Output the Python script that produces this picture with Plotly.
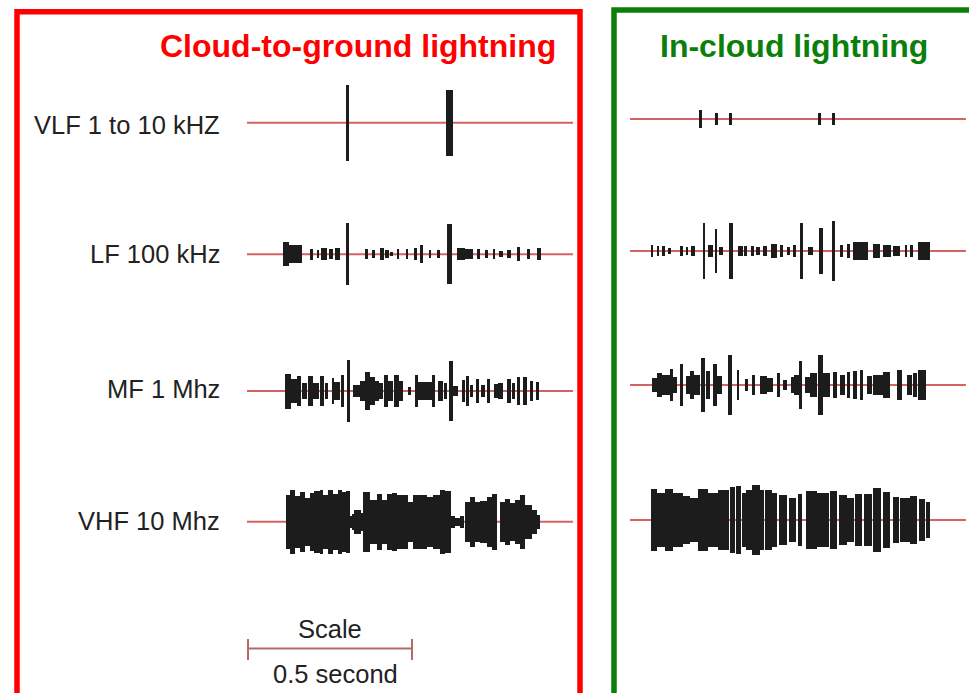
import plotly.graph_objects as go

W, H = 969, 693
PX_PER_S = 328.0          # horizontal time scale, pixels per second
LEFT_T0_PX = 248.0        # pixel where t = 0 for the cloud-to-ground traces
RIGHT_T0_PX = 633.0       # pixel where t = 0 for the in-cloud traces

BANDS = ["VLF 1 to 10 kHZ", "LF 100 kHz", "MF 1 Mhz", "VHF 10 Mhz"]

# Each record: (pulse start s, pulse end s, half amplitude in relative units)
CG_VLF = [(0.300, 0.309, 38), (0.605, 0.624, 33)]

CG_LF = [
    (0.106, 0.125, 12), (0.125, 0.164, 9), (0.189, 0.198, 5.5), (0.209, 0.217, 4),
    (0.223, 0.241, 6), (0.247, 0.259, 5), (0.264, 0.280, 6), (0.299, 0.308, 31),
    (0.357, 0.366, 5), (0.378, 0.387, 4), (0.402, 0.415, 6), (0.418, 0.430, 4),
    (0.435, 0.441, 2), (0.453, 0.461, 5), (0.481, 0.489, 5), (0.506, 0.516, 6),
    (0.524, 0.534, 9), (0.551, 0.559, 4), (0.575, 0.585, 4), (0.608, 0.622, 30),
    (0.636, 0.662, 6), (0.662, 0.687, 5), (0.698, 0.707, 5), (0.723, 0.731, 4),
    (0.746, 0.754, 5), (0.765, 0.777, 3), (0.789, 0.801, 4), (0.819, 0.829, 7),
    (0.850, 0.860, 5), (0.880, 0.892, 6),
]

CG_MF = [
    (0.113, 0.130, 17.5), (0.130, 0.148, 12), (0.150, 0.161, 15), (0.164, 0.179, 8),
    (0.184, 0.197, 15), (0.199, 0.217, 8), (0.220, 0.232, 15), (0.235, 0.245, 8),
    (0.255, 0.262, 13), (0.262, 0.280, 9), (0.284, 0.293, 16), (0.301, 0.311, 31),
    (0.321, 0.341, 6), (0.341, 0.357, 10), (0.357, 0.372, 19), (0.372, 0.387, 14),
    (0.387, 0.400, 10), (0.400, 0.412, 8), (0.415, 0.428, 16), (0.428, 0.443, 10),
    (0.445, 0.459, 16), (0.461, 0.473, 10), (0.489, 0.496, 4), (0.509, 0.519, 16),
    (0.519, 0.560, 9), (0.560, 0.570, 16), (0.580, 0.594, 10), (0.598, 0.608, 8),
    (0.614, 0.624, 30), (0.626, 0.641, 5), (0.652, 0.662, 11), (0.665, 0.675, 15),
    (0.677, 0.687, 6), (0.695, 0.705, 12), (0.709, 0.723, 6), (0.728, 0.738, 12),
    (0.750, 0.763, 7), (0.763, 0.778, 8), (0.789, 0.801, 12), (0.804, 0.814, 8),
    (0.819, 0.829, 14), (0.839, 0.850, 14), (0.860, 0.870, 10), (0.878, 0.886, 9),
]

CG_VHF = [
    (0.116, 0.128, 27), (0.128, 0.143, 32), (0.143, 0.159, 26), (0.159, 0.174, 30),
    (0.174, 0.189, 24), (0.189, 0.201, 29), (0.201, 0.220, 31), (0.220, 0.230, 32),
    (0.230, 0.245, 27), (0.245, 0.260, 32), (0.260, 0.275, 28), (0.275, 0.286, 32),
    (0.286, 0.299, 30), (0.299, 0.311, 31),
    (0.311, 0.316, 6), (0.316, 0.323, 8), (0.323, 0.345, 12), (0.345, 0.352, 9),
    (0.352, 0.372, 30), (0.372, 0.392, 22), (0.392, 0.408, 28), (0.408, 0.423, 22),
    (0.423, 0.438, 28), (0.438, 0.453, 29), (0.453, 0.473, 27), (0.473, 0.489, 27),
    (0.489, 0.504, 20), (0.504, 0.524, 27), (0.524, 0.545, 27), (0.545, 0.565, 25),
    (0.565, 0.585, 27), (0.585, 0.601, 32), (0.601, 0.618, 31),
    (0.618, 0.630, 6), (0.630, 0.645, 4), (0.645, 0.658, 6),
    (0.662, 0.677, 20), (0.677, 0.692, 25), (0.692, 0.707, 20), (0.707, 0.728, 21),
    (0.728, 0.743, 25), (0.743, 0.758, 28),
    (0.768, 0.784, 20), (0.784, 0.799, 23), (0.799, 0.814, 19), (0.814, 0.829, 22),
    (0.829, 0.845, 27), (0.845, 0.865, 17), (0.865, 0.880, 12), (0.880, 0.890, 7),
]

IC_VLF = [
    (0.200, 0.210, 9), (0.250, 0.258, 6), (0.294, 0.303, 6),
    (0.565, 0.573, 6), (0.608, 0.617, 6),
]

IC_LF = [
    (0.054, 0.062, 6), (0.072, 0.080, 5), (0.088, 0.098, 5), (0.108, 0.115, 3),
    (0.143, 0.152, 5), (0.162, 0.169, 4), (0.176, 0.188, 5), (0.213, 0.220, 28),
    (0.230, 0.245, 6), (0.251, 0.257, 22), (0.263, 0.273, 4), (0.294, 0.306, 28),
    (0.321, 0.334, 5), (0.338, 0.347, 5), (0.359, 0.369, 5), (0.375, 0.387, 4),
    (0.395, 0.408, 5), (0.420, 0.438, 7), (0.448, 0.458, 6), (0.469, 0.479, 4),
    (0.489, 0.497, 6), (0.509, 0.517, 28), (0.534, 0.550, 4), (0.566, 0.578, 23),
    (0.607, 0.616, 30), (0.631, 0.641, 6), (0.652, 0.662, 7), (0.672, 0.717, 9),
    (0.733, 0.753, 7), (0.763, 0.786, 6), (0.794, 0.814, 5), (0.829, 0.836, 6),
    (0.845, 0.855, 6), (0.868, 0.905, 9),
]

IC_MF = [
    (0.057, 0.072, 7), (0.072, 0.088, 12), (0.088, 0.113, 10), (0.113, 0.123, 16),
    (0.123, 0.135, 8), (0.143, 0.152, 21), (0.162, 0.174, 9), (0.174, 0.186, 14),
    (0.186, 0.204, 10), (0.206, 0.220, 27), (0.223, 0.235, 14), (0.245, 0.257, 21),
    (0.257, 0.270, 9), (0.291, 0.301, 30), (0.316, 0.324, 15), (0.341, 0.352, 6),
    (0.362, 0.372, 10), (0.387, 0.408, 9), (0.408, 0.428, 7), (0.438, 0.448, 12),
    (0.458, 0.469, 5), (0.481, 0.491, 8), (0.491, 0.506, 10), (0.506, 0.514, 24),
    (0.524, 0.540, 8), (0.540, 0.560, 12), (0.565, 0.578, 30), (0.580, 0.601, 12),
    (0.611, 0.623, 13), (0.631, 0.646, 10), (0.652, 0.662, 13), (0.672, 0.682, 14),
    (0.692, 0.702, 15), (0.713, 0.728, 9), (0.733, 0.763, 10), (0.763, 0.784, 13),
    (0.804, 0.819, 15), (0.834, 0.850, 10), (0.855, 0.865, 12), (0.870, 0.893, 15),
]

IC_VHF = [
    (0.054, 0.072, 31), (0.072, 0.098, 27), (0.098, 0.123, 31), (0.123, 0.153, 27),
    (0.153, 0.174, 24), (0.174, 0.199, 22), (0.199, 0.230, 31), (0.230, 0.260, 27),
    (0.260, 0.292, 30), (0.295, 0.312, 33), (0.315, 0.329, 34), (0.332, 0.346, 27),
    (0.346, 0.362, 30), (0.362, 0.387, 35), (0.387, 0.399, 30), (0.403, 0.423, 30),
    (0.423, 0.440, 27), (0.446, 0.470, 25), (0.475, 0.496, 22), (0.502, 0.516, 26),
    (0.526, 0.560, 29), (0.560, 0.597, 27), (0.600, 0.622, 29), (0.629, 0.652, 25),
    (0.652, 0.673, 22), (0.676, 0.699, 26), (0.705, 0.729, 26), (0.732, 0.755, 32),
    (0.761, 0.785, 28), (0.792, 0.810, 23), (0.813, 0.845, 22), (0.845, 0.867, 24),
    (0.873, 0.891, 21), (0.894, 0.905, 18),
]

SCALE_SECONDS = 0.5

# Layout: baseline heights (px from top) of each band row in both panels
LEFT_ROWS_PX = [122.7, 254.3, 391.0, 521.7]
RIGHT_ROWS_PX = [119.0, 251.0, 385.0, 520.0]
LABEL_Y_PX = [125, 254, 389, 521]
LEFT_LINE_T = (-0.003, 0.991)
RIGHT_LINE_T = (-0.009, 1.015)

INK = "#1c1c1c"
BASELINE = "#d46464"
TEXT = "#222222"
FONT = "Liberation Sans, Arial, sans-serif"


def px_x(px):
    return px / W


def px_y(py):
    return 1 - py / H


fig = go.Figure()


def add_wave(records, row_px, xaxis):
    starts = [r[0] for r in records]
    ends = [r[1] for r in records]
    amps = [r[2] for r in records]
    fig.add_trace(go.Bar(
        x=[(s + e) / 2 for s, e in zip(starts, ends)],
        width=[e - s for s, e in zip(starts, ends)],
        base=[row_px - a for a in amps],
        y=[2 * a for a in amps],
        xaxis=xaxis, yaxis="y",
        marker=dict(color=INK, line=dict(width=0)),
        showlegend=False, hoverinfo="skip",
    ))


for recs, row in zip([CG_VLF, CG_LF, CG_MF, CG_VHF], LEFT_ROWS_PX):
    add_wave(recs, row, "x")
for recs, row in zip([IC_VLF, IC_LF, IC_MF, IC_VHF], RIGHT_ROWS_PX):
    add_wave(recs, row, "x2")

shapes = []
# baselines for every band
for row in LEFT_ROWS_PX:
    shapes.append(dict(type="line", xref="x", yref="y", x0=LEFT_LINE_T[0], x1=LEFT_LINE_T[1],
                       y0=row, y1=row, line=dict(color=BASELINE, width=2), layer="below"))
for row in RIGHT_ROWS_PX:
    shapes.append(dict(type="line", xref="x2", yref="y", x0=RIGHT_LINE_T[0], x1=RIGHT_LINE_T[1],
                       y0=row, y1=row, line=dict(color=BASELINE, width=2), layer="below"))

# time scale bar
SCALE_Y = 648.5
scale_col = "#b56a6a"
shapes.append(dict(type="line", xref="x", yref="y", x0=0, x1=SCALE_SECONDS,
                   y0=SCALE_Y, y1=SCALE_Y, line=dict(color=scale_col, width=2)))
for xe in (0, SCALE_SECONDS):
    shapes.append(dict(type="line", xref="x", yref="y", x0=xe, x1=xe,
                       y0=639, y1=660, line=dict(color=scale_col, width=2)))

# panel frames
shapes.append(dict(type="rect", xref="paper", yref="paper",
                   x0=px_x(17), x1=px_x(580), y0=px_y(700), y1=px_y(11.7),
                   line=dict(color="#ff0000", width=5.5)))
shapes.append(dict(type="rect", xref="paper", yref="paper",
                   x0=px_x(614), x1=px_x(990), y0=px_y(700), y1=px_y(10),
                   line=dict(color="#0a800a", width=5.5)))

annotations = [
    dict(text="Cloud-to-ground lightning", x=px_x(357.5), y=px_y(46),
         font=dict(family=FONT, size=32, color="#ff0000", weight="bold")),
    dict(text="In-cloud lightning", x=px_x(794), y=px_y(46),
         font=dict(family=FONT, size=32, color="#0a800a", weight="bold")),
    dict(text="Scale", x=px_x(330), y=px_y(629),
         font=dict(family=FONT, size=25.5, color=TEXT)),
    dict(text="0.5 second", x=px_x(335.5), y=px_y(674),
         font=dict(family=FONT, size=25.5, color=TEXT)),
]
for name, ly in zip(BANDS, LABEL_Y_PX):
    annotations.append(dict(text=name, x=px_x(222), y=px_y(ly), xanchor="right",
                            font=dict(family=FONT, size=25.5, color=TEXT)))
for a in annotations:
    a.update(xref="paper", yref="paper", showarrow=False)
    a.setdefault("xanchor", "center")
    a.setdefault("yanchor", "middle")

fig.update_layout(
    width=W, height=H,
    margin=dict(l=0, r=0, t=0, b=0),
    paper_bgcolor="white", plot_bgcolor="white",
    barmode="overlay", bargap=0,
    xaxis=dict(domain=[0, 1], range=[-LEFT_T0_PX / PX_PER_S, (W - LEFT_T0_PX) / PX_PER_S],
               visible=False, fixedrange=True),
    xaxis2=dict(domain=[0, 1], overlaying="x",
                range=[-RIGHT_T0_PX / PX_PER_S, (W - RIGHT_T0_PX) / PX_PER_S],
                visible=False, fixedrange=True),
    yaxis=dict(domain=[0, 1], range=[H, 0], visible=False, fixedrange=True),
    shapes=shapes,
    annotations=annotations,
)

fig.write_html("out.html")
